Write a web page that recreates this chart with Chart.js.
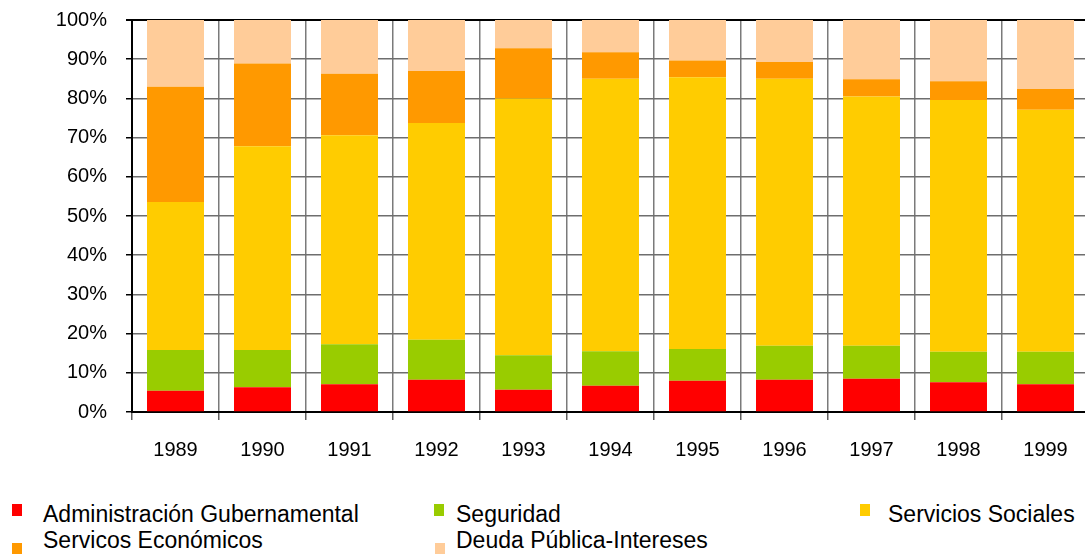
<!DOCTYPE html>
<html>
<head>
<meta charset="utf-8">
<script src="https://cdn.jsdelivr.net/npm/chart.js@4/dist/chart.umd.min.js"></script>
<style>
  html, body { margin: 0; padding: 0; background: #fff; }
  #wrap { position: relative; width: 1085px; height: 554px; overflow: hidden; }
  #chart { position: absolute; left: 0; top: 0; }
  .item { position: absolute; font-family: "Liberation Sans", Arial, sans-serif; font-size: 23px; color: #000; white-space: nowrap; line-height: 23px; }
  .item .box { position: absolute; width: 10px; height: 12px; }
  .item .txt { position: absolute; }
</style>
</head>
<body>
<div id="wrap">
  <canvas id="chart" width="1095" height="470"></canvas>
  <div id="legend"></div>
</div>
<script>
const years = ['1989', '1990', '1991', '1992', '1993', '1994', '1995', '1996', '1997', '1998', '1999'];

const adminGub = [5.4, 6.3, 7.1, 8.2, 5.7, 6.7, 8.0, 8.2, 8.5, 7.6, 7.1];
const seguridad = [10.4, 9.5, 10.2, 10.2, 8.8, 8.8, 8.1, 8.7, 8.4, 7.8, 8.3];
const servSociales = [37.8, 52.0, 53.3, 55.3, 65.5, 69.5, 69.3, 68.1, 63.6, 64.2, 61.7];
const servEconomicos = [29.4, 21.1, 15.7, 13.3, 12.8, 6.8, 4.3, 4.3, 4.4, 4.8, 5.3];
const deudaIntereses = [17.0, 11.1, 13.7, 13.0, 7.2, 8.2, 10.3, 10.7, 15.1, 15.6, 17.6];

const seriesNames = ['Administración Gubernamental', 'Seguridad', 'Servicios Sociales', 'Servicos Económicos', 'Deuda Pública-Intereses'];
const seriesColors = ['#ff0000', '#99cc00', '#ffcc00', '#ff9900', '#ffcc99'];
const seriesData = [adminGub, seguridad, servSociales, servEconomicos, deudaIntereses];

// legend layout slots (square left/top, text left/top)
const legendSlots = [
  { bx: 12, by: 504, tx: 43, ty: 503 },
  { bx: 434, by: 504, tx: 456, ty: 503 },
  { bx: 860, by: 504, tx: 888, ty: 503 },
  { bx: 12, by: 543, tx: 43, ty: 529 },
  { bx: 435, by: 543, tx: 456, ty: 529 }
];

const ctx = document.getElementById('chart').getContext('2d');
new Chart(ctx, {
  type: 'bar',
  data: {
    labels: years,
    datasets: seriesNames.map((name, i) => ({
      label: name,
      data: seriesData[i],
      backgroundColor: seriesColors[i],
      borderWidth: 0,
      categoryPercentage: 1,
      barPercentage: 0.655
    }))
  },
  options: {
    responsive: false,
    animation: false,
    layout: { padding: { top: 20, right: 6, left: 0, bottom: 0 } },
    plugins: { legend: { display: false }, tooltip: { enabled: false } },
    scales: {
      x: {
        stacked: true,
        offset: true,
        grid: {
          offset: true,
          color: '#7a7a7a',
          lineWidth: 1.5,
          tickLength: 8,
          tickColor: '#606060'
        },
        border: { color: '#000', width: 2 },
        ticks: {
          color: '#000',
          padding: 18,
          font: { family: 'Liberation Sans', size: 20 }
        },
        afterFit: s => { s.height = 58; }
      },
      y: {
        stacked: true,
        min: 0,
        max: 100,
        grid: {
          color: c => c.tick && c.tick.value === 100 ? '#000' : '#6e6e6e',
          lineWidth: c => c.tick && c.tick.value === 100 ? 2 : 1.5,
          tickLength: 6,
          tickColor: '#000'
        },
        border: { color: '#000', width: 2 },
        ticks: {
          stepSize: 10,
          color: '#000',
          padding: 19,
          font: { family: 'Liberation Sans', size: 20 },
          callback: v => v + '%'
        },
        afterFit: s => {
          s.width = 132;
          s.paddingTop = 0;
          s.paddingBottom = 0;
        }
      }
    }
  }
});

const legend = document.getElementById('legend');
seriesNames.forEach((name, i) => {
  const slot = legendSlots[i];
  const box = document.createElement('div');
  box.className = 'item';
  box.innerHTML = '<span class="box" style="left:' + slot.bx + 'px;top:' + slot.by + 'px;background:' + seriesColors[i] + '"></span>' +
    '<span class="txt" style="left:' + slot.tx + 'px;top:' + slot.ty + 'px">' + name + '</span>';
  legend.appendChild(box);
});
</script>
</body>
</html>
